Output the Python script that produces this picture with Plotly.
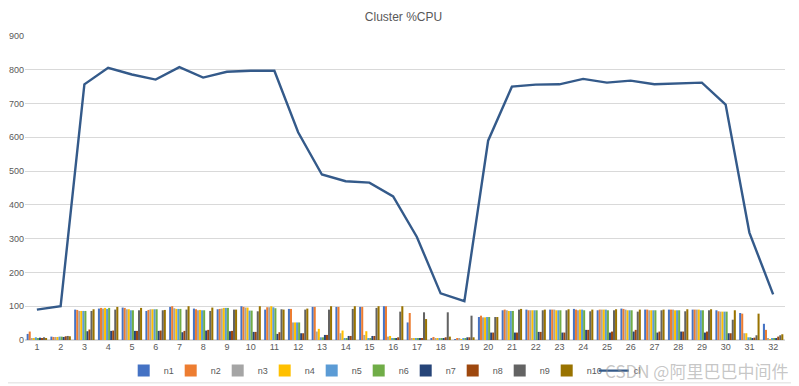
import plotly.graph_objects as go

categories = [str(i) for i in range(1, 33)]

n1 = [18, 10, 90, 93, 96, 86, 98, 93, 91, 100, 90, 92, 98, 98, 98, 100, 52, 5, 1, 68, 88, 90, 90, 92, 88, 93, 90, 90, 90, 88, 80, 48]
n2 = [25, 9, 89, 95, 95, 89, 100, 91, 92, 98, 97, 92, 98, 98, 98, 100, 80, 9, 5, 72, 90, 88, 90, 90, 90, 92, 90, 90, 90, 85, 78, 30]
n3 = [5, 9, 86, 93, 91, 91, 94, 88, 93, 96, 97, 52, 25, 20, 15, 10, 4, 5, 5, 67, 88, 88, 90, 88, 90, 90, 88, 90, 90, 84, 20, 3]
n4 = [3, 9, 86, 95, 91, 91, 92, 89, 95, 96, 100, 52, 33, 28, 26, 12, 3, 3, 1, 67, 86, 88, 88, 90, 90, 88, 88, 88, 90, 84, 20, 2]
n5 = [8, 10, 86, 92, 88, 91, 92, 88, 95, 87, 97, 52, 8, 5, 5, 3, 6, 5, 3, 68, 86, 88, 88, 90, 90, 88, 88, 88, 88, 84, 8, 3]
n6 = [6, 10, 86, 95, 88, 91, 92, 88, 95, 87, 94, 52, 8, 5, 5, 3, 6, 5, 4, 68, 86, 88, 88, 88, 88, 88, 88, 88, 88, 84, 8, 3]
n7 = [7, 9, 26, 27, 27, 27, 23, 28, 26, 24, 18, 20, 15, 12, 12, 5, 5, 6, 8, 22, 22, 24, 22, 30, 22, 25, 22, 25, 22, 20, 5, 5]
n8 = [6, 11, 31, 28, 27, 28, 27, 30, 27, 24, 23, 20, 15, 12, 12, 8, 5, 8, 8, 22, 22, 24, 22, 30, 25, 30, 25, 25, 25, 20, 7, 10]
n9 = [8, 12, 86, 90, 88, 88, 90, 86, 90, 85, 91, 90, 90, 92, 95, 84, 82, 82, 72, 68, 90, 88, 88, 85, 88, 84, 88, 85, 88, 60, 14, 14]
n10 = [4, 11, 91, 98, 95, 89, 100, 96, 90, 100, 90, 93, 100, 100, 100, 100, 62, 10, 8, 68, 92, 90, 91, 90, 91, 90, 90, 91, 91, 88, 78, 17]
cluster = [90, 100, 757, 806, 786, 771, 808, 777, 794, 797, 797, 615, 490, 470, 466, 425, 305, 138, 115, 590, 750, 756, 757, 773, 762, 768, 757, 760, 762, 697, 318, 135]

series_names = ["n1", "n2", "n3", "n4", "n5", "n6", "n7", "n8", "n9", "n10"]
series_vals = [n1, n2, n3, n4, n5, n6, n7, n8, n9, n10]
colors = ["#4472C4", "#ED7D31", "#A5A5A5", "#FFC000", "#5B9BD5",
          "#70AD47", "#264478", "#9E480E", "#636363", "#997300"]
y_ticks = [0, 100, 200, 300, 400, 500, 600, 700, 800, 900]

fig = go.Figure()
for name, vals, c in zip(series_names, series_vals, colors):
    fig.add_trace(go.Bar(x=categories, y=vals, name=name, marker_color=c,
                         marker_line_width=0))
fig.add_trace(go.Scatter(x=categories, y=cluster, name="cluster", mode="lines",
                         line=dict(color="#345A8A", width=2.4)))

# page body adds an 8px offset; figure is sized so the plot lands where the reference has it
fig.update_layout(
    width=791, height=378,
    margin=dict(l=17, r=14, t=28, b=46, autoexpand=False),
    paper_bgcolor="white", plot_bgcolor="white",
    title=dict(text="Cluster %CPU", x=0.5, xanchor="center", y=0.976, yanchor="middle",
               font=dict(family="Liberation Sans, Arial", size=12, color="#595959")),
    barmode="group", bargap=0.14, bargroupgap=0.0,
    font=dict(family="Liberation Sans, Arial", size=9, color="#595959"),
    showlegend=True,
    legend=dict(orientation="h", x=0.47, xanchor="center", y=-0.053, yanchor="top",
                font=dict(size=9, color="#595959"), itemwidth=30,
                entrywidth=2, entrywidthmode="pixels",
                traceorder="normal", bgcolor="rgba(0,0,0,0)"),
    xaxis=dict(type="category", showgrid=False, ticks="", showline=False,
               tickfont=dict(size=9, color="#595959"), range=[-0.5, 31.5]),
    yaxis=dict(range=[0, 900], tickvals=y_ticks, showgrid=True, gridcolor="#D9D9D9",
               gridwidth=1, zeroline=True, zerolinecolor="#D9D9D9", ticks="",
               tickfont=dict(size=9, color="#595959")),
)
fig.add_annotation(text="CSDN @阿里巴巴中间件", xref="paper", yref="paper", x=1.007, y=-0.099,
                   xanchor="right", yanchor="middle", showarrow=False,
                   font=dict(family="Noto Sans CJK SC", size=17, color="rgba(150,150,150,0.55)"))
fig.add_shape(type="line", xref="paper", yref="paper", x0=-0.03, x1=1.02, y0=-0.141, y1=-0.141,
              line=dict(color="#DDDDDD", width=1))
fig.write_html("out.html")
